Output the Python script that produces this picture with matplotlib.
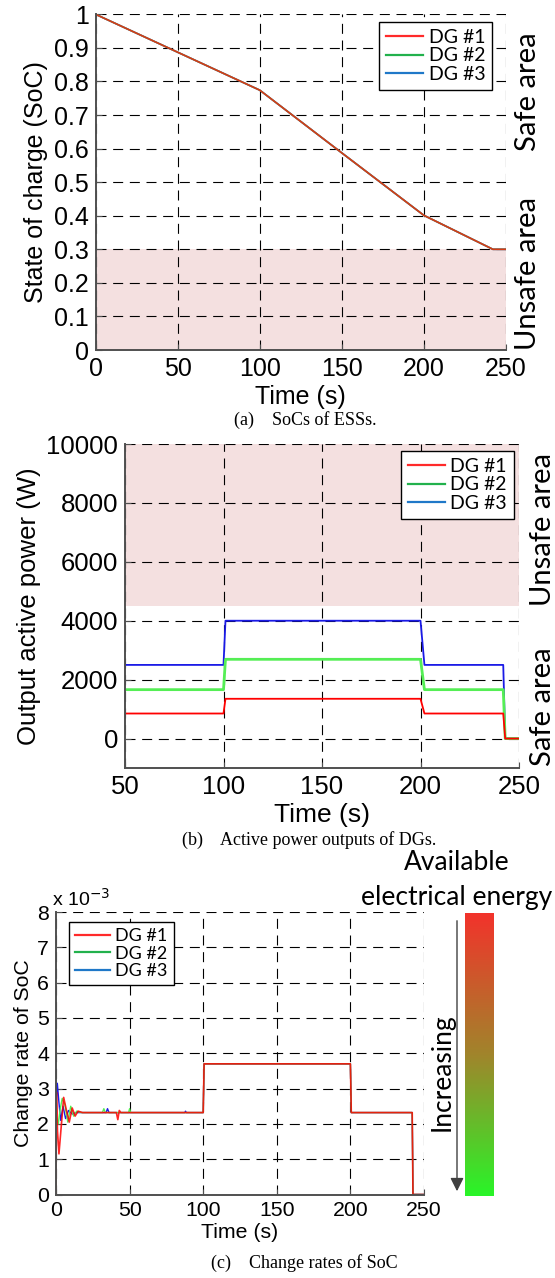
import numpy as np
import matplotlib as mpl
mpl.use("agg")
from matplotlib import pyplot as plt
from matplotlib.lines import Line2D
from matplotlib.colors import LinearSegmentedColormap

# (a) SoCs of the ESSs (the three DGs lie on top of each other)
socTime = [0, 50, 100, 150, 200, 242, 250]
socDG1 = [1.0, 0.887, 0.774, 0.587, 0.401, 0.300, 0.300]
socDG2 = [1.0, 0.887, 0.774, 0.587, 0.401, 0.300, 0.300]
socDG3 = [1.0, 0.887, 0.774, 0.587, 0.401, 0.300, 0.300]

# (b) active power outputs of the DGs (W)
powerTime = [50, 100, 101, 200, 202, 242, 243, 250]
powerDG1 = [850, 850, 1350, 1350, 850, 850, 0, 0]
powerDG2 = [1660, 1660, 2690, 2690, 1660, 1660, 0, 0]
powerDG3 = [2500, 2500, 4000, 4000, 2500, 2500, 0, 0]

# (c) change rates of SoC (x 1e-3)
rateTimeDG1 = [0, 0.3, 1.0, 2.0, 3.5, 5.2, 7.0, 9.0, 11.0, 13.0, 15.0, 18.0,
               41.0, 42.0, 43.0, 44.0, 100.0, 100.6, 200.0, 200.6, 242.0, 242.5, 250.0]
rateDG1 = [0.0, 2.9, 1.8, 1.15, 1.9, 2.75, 2.4, 2.05, 2.45, 2.22, 2.36, 2.32,
           2.32, 2.12, 2.38, 2.32, 2.32, 3.70, 3.70, 2.32, 2.32, 0.0, 0.0]
rateTimeDG2 = [0, 0.3, 1.5, 3.0, 4.2, 6.0, 8.0, 10.0, 12.0, 14.0, 17.0, 31.5, 32.5,
               33.5, 49.3, 50.0, 50.7, 100.0, 100.6, 200.0, 200.6, 242.0, 242.5, 250.0]
rateDG2 = [0.0, 2.2, 2.0, 2.45, 2.72, 2.55, 2.05, 2.5, 2.22, 2.36, 2.32, 2.32, 2.43,
           2.32, 2.32, 2.43, 2.32, 2.32, 3.70, 3.70, 2.32, 2.32, 0.0, 0.0]
rateTimeDG3 = [0, 0.2, 0.9, 2.0, 3.2, 4.8, 6.5, 8.5, 11.0, 14.0, 34.0, 35.0, 36.0,
               87.5, 88.0, 88.5, 100.0, 100.6, 200.0, 200.6, 242.0, 242.5, 250.0]
rateDG3 = [0.0, 2.6, 3.15, 2.6, 2.1, 2.5, 2.15, 2.38, 2.28, 2.32, 2.32, 2.43, 2.32,
           2.32, 2.36, 2.32, 2.32, 3.70, 3.70, 2.32, 2.32, 0.0, 0.0]

legendLabels = ["DG #1", "DG #2", "DG #3"]
legendColors = ["#ff2a2a", "#22b14c", "#1f78c8"]
lineColors = ["#ff0000", "#55ee55", "#1a1ae6"]
unsafeColor = "#f4e0e0"

plt.rcParams["font.family"] = ["Liberation Sans", "DejaVu Sans"]
W, H = 555, 1278
fig = plt.figure(figsize=(W / 100, H / 100), dpi=100)


def pixelRect(left, top, right, bottom):
    return [left / W, 1 - bottom / H, (right - left) / W, (bottom - top) / H]


def figText(x, y, s, **kw):
    fig.text(x / W, 1 - y / H, s, ha="center", va="center", **kw)


def styleAxes(ax, tickSize):
    ax.set_axisbelow(True)
    ax.grid(True, color="black", linewidth=0.8, linestyle=(0, (9, 6)))
    for side in ["top", "right"]:
        ax.spines[side].set_visible(False)
    for side in ["left", "bottom"]:
        ax.spines[side].set_color("#505050")
        ax.spines[side].set_linewidth(1.4)
    ax.tick_params(direction="in", length=4, width=0.8, color="#505050",
                   labelsize=tickSize, pad=5)


def addLegend(ax, loc, anchor, size):
    handles = [Line2D([], [], color=c, lw=1.6) for c in legendColors]
    leg = ax.legend(handles, legendLabels, loc=loc, bbox_to_anchor=anchor,
                    borderaxespad=0, fancybox=False, framealpha=1,
                    edgecolor="black", handlelength=1.9, handletextpad=0.3,
                    labelspacing=0.08, borderpad=0.35,
                    prop={"family": "Lato", "size": size})
    leg.get_frame().set_linewidth(1.0)


# ---- (a) SoC
socPlot = fig.add_axes(pixelRect(95.6, 14.3, 506, 350))
socPlot.axhspan(0, 0.3, color=unsafeColor, zorder=0.2, lw=0)
socPlot.plot(socTime, socDG3, color=lineColors[2], lw=1.2)
socPlot.plot(socTime, socDG2, color=lineColors[1], lw=1.2)
socPlot.plot(socTime, socDG1, color=lineColors[0], lw=1.2, alpha=0.75)
socPlot.set_xlim(0, 250)
socPlot.set_ylim(0, 1)
socPlot.set_xticks(range(0, 251, 50))
socPlot.set_yticks(np.arange(0, 1.01, 0.1))
socPlot.set_yticklabels(["0", "0.1", "0.2", "0.3", "0.4", "0.5", "0.6", "0.7", "0.8", "0.9", "1"])
styleAxes(socPlot, 18)
socPlot.set_xlabel("Time (s)", fontsize=18, labelpad=3)
socPlot.set_ylabel("State of charge (SoC)", fontsize=18, labelpad=4)
addLegend(socPlot, "upper right", (0.966, 0.977), 14)

figText(528, 92, "Safe area", rotation=90, family="Lato", fontsize=21)
figText(528, 274, "Unsafe area", rotation=90, family="Lato", fontsize=21)
figText(305, 420, "(a)    SoCs of ESSs.", family="Liberation Serif", fontsize=13)

# ---- (b) active power
powerPlot = fig.add_axes(pixelRect(125, 444, 519, 768))
powerPlot.axhspan(4500, 10000, color=unsafeColor, zorder=0.2, lw=0)
powerPlot.plot(powerTime, powerDG3, color=lineColors[2], lw=1.3)
powerPlot.plot(powerTime, powerDG2, color=lineColors[1], lw=2.0)
powerPlot.plot(powerTime, powerDG1, color=lineColors[0], lw=1.3)
powerPlot.set_xlim(50, 250)
powerPlot.set_ylim(-1000, 10000)
powerPlot.set_xticks(range(50, 251, 50))
powerPlot.set_yticks(range(0, 10001, 2000))
styleAxes(powerPlot, 18.5)
powerPlot.set_xlabel("Time (s)", fontsize=19, labelpad=3)
powerPlot.set_ylabel("Output active power (W)", fontsize=18.5, labelpad=4)
addLegend(powerPlot, "upper right", (0.987, 0.978), 14)

figText(543, 530, "Unsafe area", rotation=90, family="Lato", fontsize=21)
figText(543, 707, "Safe area", rotation=90, family="Lato", fontsize=21)
figText(309, 840, "(b)    Active power outputs of DGs.", family="Liberation Serif", fontsize=13)

# ---- (c) change rate of SoC
ratePlot = fig.add_axes(pixelRect(56, 912, 424, 1194.5))
ratePlot.plot(rateTimeDG3, rateDG3, color=lineColors[2], lw=1.0)
ratePlot.plot(rateTimeDG2, rateDG2, color=lineColors[1], lw=1.0)
ratePlot.plot(rateTimeDG1, rateDG1, color=lineColors[0], lw=1.2, alpha=0.85)
ratePlot.set_xlim(0, 250)
ratePlot.set_ylim(0, 8)
ratePlot.set_xticks(range(0, 251, 50))
ratePlot.set_yticks(range(0, 9))
styleAxes(ratePlot, 15.3)
ratePlot.set_xlabel("Time (s)", fontsize=15.3, labelpad=2)
ratePlot.set_ylabel("Change rate of SoC", fontsize=15.3, labelpad=3)
addLegend(ratePlot, "upper left", (0.035, 0.965), 13)
figText(81, 899, r"x 10$^{-3}$", fontsize=14)
figText(304, 1263, "(c)    Change rates of SoC", family="Liberation Serif", fontsize=13)

# colour bar for available energy
energyMap = LinearSegmentedColormap.from_list(
    "energy", [(0.95, 0.2, 0.17), (0.63, 0.52, 0.17), (0.16, 0.96, 0.16)])
barAx = fig.add_axes(pixelRect(465, 913, 494, 1196))
barAx.imshow(np.linspace(0, 1, 256).reshape(-1, 1), cmap=energyMap, aspect="auto")
barAx.axis("off")
fig.add_artist(mpl.patches.FancyArrowPatch(
    (457 / W, 1 - 918 / H), (457 / W, 1 - 1194 / H), transform=fig.transFigure,
    arrowstyle="-|>,head_length=8,head_width=4", color="#404040", lw=1.0))
figText(442, 1072, "Increasing", rotation=90, family="Lato", fontsize=19)
figText(457, 863, "Available", family="Lato", fontsize=19)
figText(457, 897, "electrical energy", family="Lato", fontsize=19)

fig.savefig("out.png", dpi=100)
